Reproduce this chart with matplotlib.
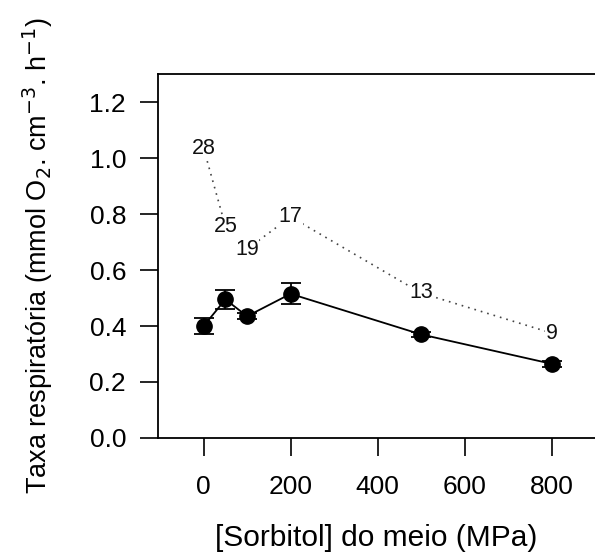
import matplotlib
matplotlib.use('Agg')
import matplotlib.pyplot as plt

# Respiration rate vs sorbitol in the medium
sorbitol = [0, 50, 100, 200, 500, 800]
taxa = [0.40, 0.495, 0.435, 0.515, 0.37, 0.265]
taxa_err = [0.03, 0.035, 0.01, 0.038, 0.01, 0.01]

# Dotted series, labelled with numbers at each point
dotted_y = [1.035, 0.757, 0.675, 0.79, 0.518, 0.375]
dotted_labels = ['28', '25', '19', '17', '13', '9']

plt.rcParams['font.family'] = ['Liberation Sans', 'DejaVu Sans']

fig = plt.figure(figsize=(5.95, 5.53), dpi=100)
ax = fig.add_axes([0.2655, 0.208, 0.7345, 0.658])

# dotted line with number labels
ax.plot(sorbitol, dotted_y, linestyle=(0, (1, 3)), color='#444444', linewidth=1.2, zorder=2)
for x, y, lab in zip(sorbitol, dotted_y, dotted_labels):
    ax.text(x, y, lab, ha='center', va='center', fontsize=15.5, color='#111111',
            bbox=dict(facecolor='white', edgecolor='none', pad=0.3), zorder=3)

# solid series with error bars
ax.errorbar(sorbitol, taxa, yerr=taxa_err, fmt='o-', color='black', markersize=11,
            linewidth=1.3, elinewidth=1.3, capsize=7, capthick=1.3, zorder=4)

ax.set_xlim(-105, 900)
ax.set_ylim(0, 1.3)
ax.set_xticks([0, 200, 400, 600, 800])
ax.set_yticks([0.0, 0.2, 0.4, 0.6, 0.8, 1.0, 1.2])
ax.set_yticklabels(['0.0', '0.2', '0.4', '0.6', '0.8', '1.0', '1.2'])

ax.spines['right'].set_visible(False)
for s in ['left', 'top', 'bottom']:
    ax.spines[s].set_linewidth(1.3)

ax.tick_params(axis='x', direction='out', length=13, width=1.2, pad=14, labelsize=19)
ax.tick_params(axis='y', direction='out', length=13, width=1.2, pad=10, labelsize=19)

ax.set_xlabel('[Sorbitol] do meio (MPa)', fontsize=21.5, labelpad=18)
ax.set_ylabel(r'Taxa respiratória (mmol O$_2$. cm$^{-3}$. h$^{-1}$)', fontsize=19.5)
ax.yaxis.set_label_coords(-0.235, 0.5)

fig.savefig('out.png', dpi=100)
